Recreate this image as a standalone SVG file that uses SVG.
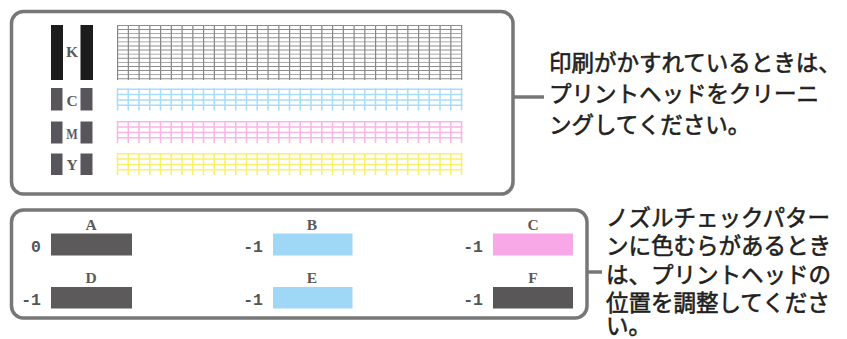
<svg xmlns="http://www.w3.org/2000/svg" width="847" height="339" viewBox="0 0 847 339">
<style>
.panel{fill:#fff;stroke:#777;stroke-width:3.5}
.conn{stroke:#777;stroke-width:3.5;fill:none}
.lbl{font-family:"Liberation Serif","DejaVu Serif",serif;font-size:15.5px;font-weight:bold;fill:#5a5a5a;text-anchor:middle}
.num{font-family:"Liberation Mono","DejaVu Sans Mono",monospace;font-size:16.5px;font-weight:bold;fill:#555;text-anchor:end}
.jp{font-family:"Liberation Sans","Noto Sans CJK JP",sans-serif;font-size:22.5px;fill:#231f20;stroke:#231f20;stroke-width:0.6}
.kbar{fill:#1c1c1c}
.gbar{fill:#58565a}
</style>
<rect width="847" height="339" fill="#fff"/>
<g id="connectors">
<line class="conn" x1="513" y1="97" x2="544" y2="97"/>
<line class="conn" x1="587" y1="272" x2="602" y2="272"/>
</g>
<g id="nozzle-pattern">
<rect class="panel" x="11.5" y="11.5" width="501.5" height="182.5" rx="12"/>
<g id="row-K">
<rect class="kbar" x="51" y="25" width="12" height="55"/>
<rect class="kbar" x="80.5" y="25" width="12.5" height="55"/>
<text class="lbl" x="72" y="57">K</text>
<line x1="117" y1="52.5" x2="462.5" y2="52.5" stroke="#858585" stroke-width="55" stroke-dasharray="1.2 9.55"/>
<line x1="289.75" y1="25" x2="289.75" y2="80" stroke="#8e8e8e" stroke-width="345" stroke-dasharray="0.9 3.2"/>
</g>
<g id="row-C">
<rect class="gbar" x="51" y="88" width="11.5" height="22.5"/>
<rect class="gbar" x="80.5" y="88" width="12" height="22.5"/>
<text class="lbl" x="72" y="105.5">C</text>
<line x1="116.75" y1="99.5" x2="462.75" y2="99.5" stroke="#a9dcf9" stroke-width="22" stroke-dasharray="1.5 9.25"/>
<path d="M117 89.3H462.5M117 94.6H462.5M117 99.9H462.5M117 105.2H462.5" stroke="#a9dcf9" stroke-width="1.5"/>
</g>
<g id="row-M">
<rect class="gbar" x="51" y="121.5" width="11.5" height="22"/>
<rect class="gbar" x="80.5" y="121.5" width="12" height="22"/>
<text class="lbl" x="72" y="138.5" textLength="11.5" lengthAdjust="spacingAndGlyphs">M</text>
<line x1="116.75" y1="132" x2="462.75" y2="132" stroke="#fbb4e6" stroke-width="22" stroke-dasharray="1.5 9.25"/>
<path d="M117 121.8H462.5M117 127.1H462.5M117 132.4H462.5M117 137.7H462.5" stroke="#fbb4e6" stroke-width="1.5"/>
</g>
<g id="row-Y">
<rect class="gbar" x="51" y="153.5" width="11.5" height="21.5"/>
<rect class="gbar" x="80.5" y="153.5" width="12" height="21.5"/>
<text class="lbl" x="72" y="169.5">Y</text>
<line x1="116.75" y1="164" x2="462.75" y2="164" stroke="#fbf06b" stroke-width="22" stroke-dasharray="1.5 9.25"/>
<path d="M117 153.8H462.5M117 159.1H462.5M117 164.4H462.5M117 169.7H462.5" stroke="#fbf06b" stroke-width="1.5"/>
</g>
</g>
<g id="alignment-pattern">
<rect class="panel" x="11.5" y="210" width="575.5" height="108" rx="12"/>
<g id="A"><text class="lbl" x="91" y="229.5">A</text><text class="num" x="41" y="251.5">0</text><rect x="51" y="233.5" width="81" height="22" fill="#5d5a5b"/></g>
<g id="B"><text class="lbl" x="312" y="229.5">B</text><text class="num" x="263" y="251.5">-1</text><rect x="273" y="233.5" width="79.5" height="22" fill="#9fd8f7"/></g>
<g id="C"><text class="lbl" x="533" y="229.5">C</text><text class="num" x="483" y="251.5">-1</text><rect x="493" y="233.5" width="80" height="22" fill="#f8a7e7"/></g>
<g id="D"><text class="lbl" x="91" y="283">D</text><text class="num" x="41" y="304.5">-1</text><rect x="51" y="287" width="81" height="21.5" fill="#5d5a5b"/></g>
<g id="E"><text class="lbl" x="312" y="283">E</text><text class="num" x="263" y="304.5">-1</text><rect x="273" y="287" width="79.5" height="21.5" fill="#9fd8f7"/></g>
<g id="F"><text class="lbl" x="533" y="283">F</text><text class="num" x="483" y="304.5">-1</text><rect x="493" y="287" width="80" height="21.5" fill="#5a5758"/></g>
</g>
<g id="note-cleaning">
<text class="jp" x="549" y="71">印刷がかすれているときは、</text>
<text class="jp" x="549" y="102">プリントヘッドをクリーニ</text>
<text class="jp" x="549" y="133">ングしてください。</text>
</g>
<g id="note-alignment">
<text class="jp" x="606" y="225.5">ノズルチェックパター</text>
<text class="jp" x="606" y="254">ンに色むらがあるとき</text>
<text class="jp" x="606" y="282.5">は、プリントヘッドの</text>
<text class="jp" x="606" y="311">位置を調整してくださ</text>
<text class="jp" x="606" y="334">い。</text>
</g>
</svg>
